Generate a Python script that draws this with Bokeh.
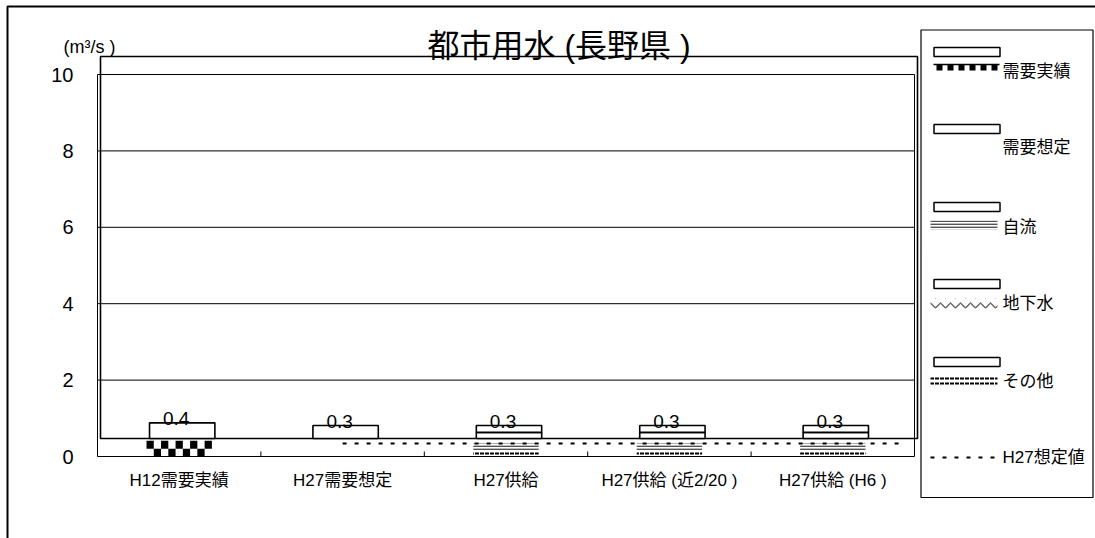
import numpy as np
from bokeh.plotting import figure
from bokeh.models import Range1d, FixedTicker, Label
from bokeh.core.properties import value
from bokeh.embed import file_html
from bokeh.resources import INLINE

# ---------------- data ----------------
categories = ["H12需要実績", "H27需要想定", "H27供給", "H27供給 (近2/20 )", "H27供給 (H6 )"]
actual = [0.41, 0, 0, 0, 0]          # 需要実績
demand = [0, 0.34, 0, 0, 0]          # 需要想定
jiryu = [0, 0, 0.18, 0.18, 0.18]     # 自流
chika = [0, 0, 0, 0, 0]              # 地下水
sonota = [0, 0, 0.16, 0.16, 0.16]    # その他
h27_value = 0.34                     # H27想定値
y_ticks = [0, 2, 4, 6, 8, 10]
title_text = "都市用水 (長野県 )"
unit_text = "(m³/s )"
legend_labels = ["需要実績", "需要想定", "自流", "地下水", "その他", "H27想定値"]

# ---------------- layout helpers (canvas pixels -> data) ----------------
PX_X = 163.4
PX_Y = 38.2
def px(xp):
    return (xp - 97.0) / PX_X
def py(yp):
    return (456.0 - yp) / PX_Y

FONT = "Liberation Sans, Noto Sans CJK JP"
W, H = 1095, 538
p = figure(width=W, height=H, title=None,
           x_range=Range1d(px(0), px(W)), y_range=Range1d(py(H), py(0)),
           output_backend="svg", toolbar_location=None,
           min_border_left=0, min_border_right=0, min_border_top=0, min_border_bottom=0)
p.outline_line_color = None
p.xgrid.visible = False
p.ygrid.visible = False
p.background_fill_color = "white"
p.border_fill_color = "white"

n = len(categories)
xs = np.arange(n) + 0.5

# axes (fixed at the plot box edges)
p.yaxis.fixed_location = 0
p.yaxis.ticker = FixedTicker(ticks=y_ticks)
p.yaxis.axis_line_color = None
p.yaxis.major_tick_in = 0
p.yaxis.major_tick_out = 0
p.yaxis.minor_tick_line_color = None
p.yaxis.major_label_text_font = "Liberation Sans"
p.yaxis.major_label_text_font_size = "20px"
p.yaxis.major_label_text_color = "black"
p.yaxis.major_label_standoff = 24

p.xaxis.fixed_location = 0
p.xaxis.ticker = FixedTicker(ticks=list(xs))
p.xaxis.major_label_overrides = {float(x): c for x, c in zip(xs, categories)}
p.xaxis.axis_line_color = None
p.xaxis.major_tick_in = 0
p.xaxis.major_tick_out = 0
p.xaxis.minor_tick_line_color = None
p.xaxis.major_label_text_font = FONT
p.xaxis.major_label_text_font_size = "17px"
p.xaxis.major_label_text_color = "black"
p.xaxis.major_label_standoff = 14

# outer border of the whole chart
p.quad(left=[px(7)], right=[px(3000)], top=[py(6)], bottom=[py(3000)], fill_color=None,
       line_color="black", line_width=2)

# gridlines and plot box (original frame)
grid_y = [t for t in y_ticks if 0 < t < max(y_ticks)]
p.segment(x0=[0] * len(grid_y), x1=[n] * len(grid_y), y0=grid_y, y1=grid_y,
          line_color="black", line_width=1)
p.quad(left=[0], right=[n], bottom=[0], top=[max(y_ticks)], fill_color=None,
       line_color="black", line_width=1)
# category boundary ticks
bx = list(range(1, n))
p.segment(x0=bx, x1=bx, y0=[0] * len(bx), y1=[5 / PX_Y] * len(bx), line_color="black", line_width=1)

# shifted frame (offset copy)
dx = 3 / PX_X
dy = 18 / PX_Y
p.quad(left=[dx], right=[n + dx], bottom=[dy], top=[max(y_ticks) + dy], fill_color=None,
       line_color="black", line_width=1.6)

bw = 0.4
stack = [sonota, chika, jiryu, demand, actual]

# pattern bars (original frame)
styles = [dict(hatch_pattern="horizontal_dash", hatch_color="black", hatch_scale=5, hatch_weight=2),
          dict(hatch_pattern="horizontal_wave", hatch_color="#666666", hatch_scale=10, hatch_weight=1.3),
          dict(hatch_pattern="horizontal_line", hatch_color="#555555", hatch_scale=3, hatch_weight=1.8),
          None, "checker"]
cum = np.zeros(n)
for vals, st in zip(stack, styles):
    v = np.array(vals, dtype=float)
    for i in range(n):
        if v[i] <= 0:
            continue
        b, t = cum[i], cum[i] + v[i]
        l, r = xs[i] - bw / 2, xs[i] + bw / 2
        if st == "checker":
            rows = max(1, int(round((t - b) * PX_Y / 8)))
            cols = max(1, int(round(bw * PX_X / 7.3)))
            hh = (t - b) / rows
            ww = bw / cols
            L, R, B, T = [], [], [], []
            for rr in range(rows):
                for cc in range(cols):
                    if (rr + cc) % 2 == 1:
                        L.append(l + cc * ww); R.append(l + (cc + 1) * ww)
                        B.append(b + rr * hh); T.append(b + (rr + 1) * hh)
            p.quad(left=L, right=R, bottom=B, top=T, fill_color="black", line_color=None)
        elif st is not None:
            p.quad(left=[l], right=[r], bottom=[b], top=[t], fill_alpha=0, line_color=None, **st)
    cum += v

# H27 projected value dashed line
p.line(x=[1 + 0.5, n - 0.05], y=[h27_value, h27_value], line_color="black", line_width=2, line_dash="4 8")

# white boxes (shifted frame)
cum = np.zeros(n)
L, R, B, T = [], [], [], []
for vals in stack:
    v = np.array(vals, dtype=float)
    for i in range(n):
        if v[i] > 0:
            L.append(xs[i] + dx - bw / 2); R.append(xs[i] + dx + bw / 2)
            B.append(dy + cum[i]); T.append(dy + cum[i] + v[i])
    cum += v
p.quad(left=L, right=R, bottom=B, top=T, fill_color="white", line_color="black", line_width=1.6)
totals = cum
p.text(x=list(xs - dx), y=list(totals + dy - 2.5 / PX_Y), text=[f"{t:.1f}" for t in totals],
       text_align="center", text_baseline="bottom", text_font=value("Liberation Sans"),
       text_font_size="19px", text_color="black")

# title and unit
p.add_layout(Label(x=px(427), y=py(45), text=title_text, text_font=FONT, text_font_size="32px",
                   text_align="left", text_baseline="middle", text_color="black"))
p.add_layout(Label(x=px(63), y=py(46), text=unit_text, text_font="Liberation Sans", text_font_size="18px",
                   text_align="left", text_baseline="middle", text_color="black"))

# ---------------- legend ----------------
p.quad(left=[px(920.5)], right=[px(1092.5)], top=[py(29.5)], bottom=[py(497)],
       fill_color=None, line_color="black", line_width=1.2)
rect_tops = [47, 124, 202, 279, 357]
p.quad(left=[px(933.5)] * 5, right=[px(999.5)] * 5, top=[py(t) for t in rect_tops],
       bottom=[py(t + 9) for t in rect_tops], fill_color="white", line_color="black", line_width=1.5)
# checker sample
p.segment(x0=[px(933)], x1=[px(999)], y0=[py(64)], y1=[py(64)], line_color="black", line_width=1.5)
sq = [936 + 11 * k for k in range(6)]
p.quad(left=[px(s) for s in sq], right=[px(s + 6) for s in sq], top=[py(64)] * 6, bottom=[py(70)] * 6,
       fill_color="black", line_color=None)
# 自流 / 地下水 / その他 samples
p.quad(left=[px(930)], right=[px(997)], top=[py(220)], bottom=[py(229)], fill_alpha=0, line_color=None,
       **styles[2])
p.quad(left=[px(930)], right=[px(997)], top=[py(298)], bottom=[py(308)], fill_alpha=0, line_color=None,
       **styles[1])
p.quad(left=[px(930)], right=[px(997)], top=[py(376)], bottom=[py(385)], fill_alpha=0, line_color=None,
       **styles[0])
p.line(x=[px(930), px(1000)], y=[py(457), py(457)], line_color="black", line_width=2, line_dash="4 8")
text_y = [71, 147, 226.5, 303, 381, 457]
for lab, ty in zip(legend_labels, text_y):
    p.add_layout(Label(x=px(1002), y=py(ty), text=lab, text_font=FONT, text_font_size="17px",
                       text_align="left", text_baseline="middle", text_color="black"))

open("out.html", "w").write(file_html(p, INLINE))
